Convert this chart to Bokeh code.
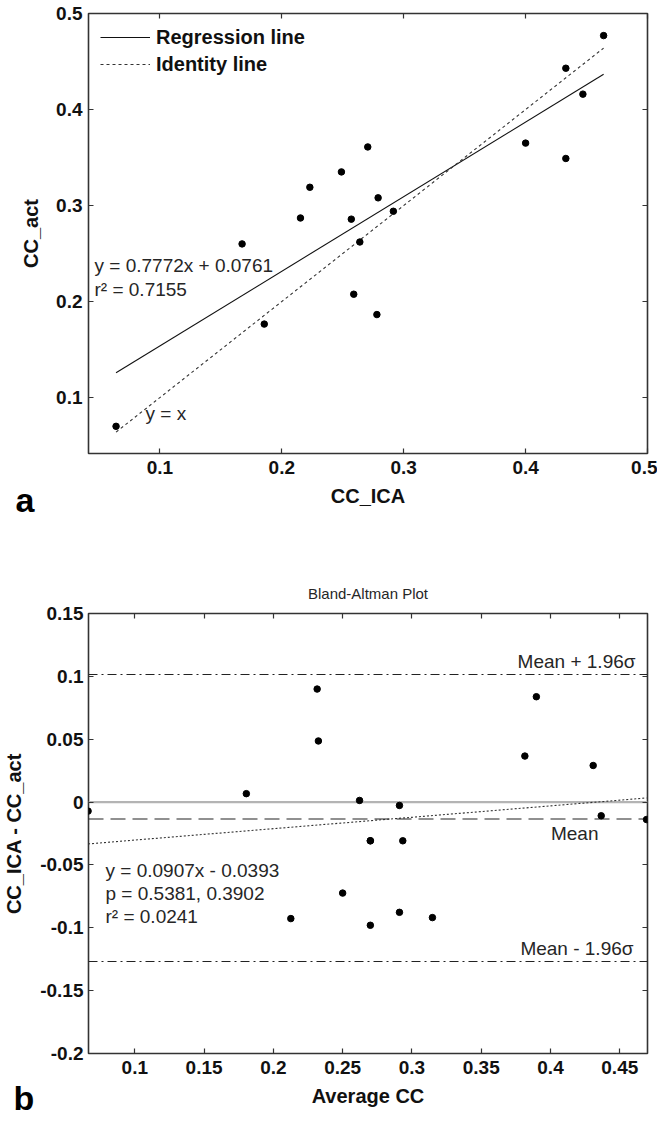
from bokeh.plotting import figure
from bokeh.models import (Range1d, FixedTicker, LinearAxis, Label, Span,
                          Legend, LegendItem, Title)
from bokeh.layouts import column
from bokeh.embed import file_html
from bokeh.resources import INLINE

# ---------------- data ----------------
# panel a: CC_ICA vs CC_act
cc_ica = [0.064, 0.1674, 0.1856, 0.2153, 0.2230, 0.2489, 0.2570, 0.2590, 0.2640,
          0.2705, 0.2780, 0.2790, 0.2915, 0.4000, 0.4330, 0.4330, 0.4470, 0.4640]
cc_act = [0.0700, 0.2600, 0.1765, 0.2870, 0.3190, 0.3350, 0.2858, 0.2076, 0.2620,
          0.3610, 0.1864, 0.3080, 0.2940, 0.3650, 0.4430, 0.3490, 0.4160, 0.4770]
reg_slope, reg_icpt = 0.7772, 0.0761
reg_text = ["y = 0.7772x + 0.0761", "r\u00b2 = 0.7155"]
legend_labels = ["Regression line", "Identity line"]

# panel b: Bland-Altman
avg_cc = [0.0663, 0.1805, 0.2126, 0.2316, 0.2325, 0.2500, 0.2622, 0.2700, 0.2700,
          0.2700, 0.2910, 0.2910, 0.2934, 0.3148, 0.3815, 0.3898, 0.4308, 0.4366,
          0.4693]
diff_cc = [-0.0072, 0.0067, -0.0927, 0.0899, 0.0486, -0.0724, 0.0013, -0.0308,
           -0.0980, -0.0308, -0.0027, -0.0877, -0.0308, -0.0919, 0.0366, 0.0838,
           0.0291, -0.0109, -0.0139]
ba_slope, ba_icpt = 0.0907, -0.0393
ba_text = ["y =  0.0907x - 0.0393", "p = 0.5381, 0.3902", "r\u00b2 = 0.0241"]
mean_diff = -0.0135
upper_loa = 0.1015
lower_loa = -0.1268

# axes
a_xrange = (0.0414, 0.5)
a_yrange = (0.0417, 0.5)
a_ticks = [0.1, 0.2, 0.3, 0.4, 0.5]
a_tick_labels = ["0.1", "0.2", "0.3", "0.4", "0.5"]
b_xrange = (0.0666, 0.47)
b_yrange = (-0.2, 0.15)
b_xticks = [0.1, 0.15, 0.2, 0.25, 0.3, 0.35, 0.4, 0.45]
b_xtick_labels = ["0.1", "0.15", "0.2", "0.25", "0.3", "0.35", "0.4", "0.45"]
b_yticks = [-0.2, -0.15, -0.1, -0.05, 0.0, 0.05, 0.1, 0.15]
b_ytick_labels = ["-0.2", "-0.15", "-0.1", "-0.05", "0", "0.05", "0.1", "0.15"]

# ---------------- styling helpers ----------------
FONT = "Liberation Sans"
FRAME = "#333333"
TXT = "#262626"


def style_axis(ax, ticks, labels, show=True):
    ax.ticker = FixedTicker(ticks=ticks)
    ax.minor_tick_line_color = None
    ax.major_tick_in = 5
    ax.major_tick_out = 0
    ax.major_tick_line_color = FRAME
    ax.major_tick_line_width = 1.2
    ax.axis_line_color = None
    if show:
        ax.major_label_overrides = {t: l for t, l in zip(ticks, labels)}
        ax.major_label_text_font = FONT
        ax.major_label_text_font_style = "bold"
        ax.major_label_text_color = "#111111"
        ax.major_label_text_font_size = "19px"
        ax.axis_label_text_font = FONT
        ax.axis_label_text_font_style = "bold"
        ax.axis_label_text_font_size = "20px"
        ax.axis_label_text_color = "#111111"
    else:
        ax.major_label_text_color = None
        ax.major_label_text_font_size = "1px"
        ax.major_label_standoff = 0


def add_box_axes(p, xt, xl, yt, yl):
    top = LinearAxis()
    right = LinearAxis()
    style_axis(top, xt, xl, show=False)
    style_axis(right, yt, yl, show=False)
    p.add_layout(top, "above")
    p.add_layout(right, "right")


def txt(p, text, x, y, xo=0, yo=0, size="19px", align="left", baseline="middle",
        style="normal", color=TXT):
    p.add_layout(Label(x=x, y=y, x_offset=xo, y_offset=yo, text=text,
                       text_font=FONT, text_font_size=size, text_font_style=style,
                       text_color=color, text_align=align, text_baseline=baseline))


def panel_letter(p, letter, offset, standoff):
    p.add_layout(Title(text=letter, align="left", vertical_align="top",
                       offset=offset, standoff=standoff,
                       text_font=FONT, text_font_size="34px",
                       text_font_style="bold", text_color="black"), "below")


# ---------------- panel a ----------------
p1 = figure(width=657, height=568, output_backend="svg", toolbar_location=None,
            x_range=Range1d(*a_xrange), y_range=Range1d(*a_yrange),
            min_border_left=88, min_border_right=10, min_border_top=13,
            min_border_bottom=115)
p1.grid.visible = False
p1.outline_line_color = FRAME
p1.outline_line_width = 1.6
style_axis(p1.xaxis[0], a_ticks, a_tick_labels)
style_axis(p1.yaxis[0], a_ticks, a_tick_labels)
p1.xaxis[0].axis_label = "CC_ICA"
p1.yaxis[0].axis_label = "CC_act"
p1.xaxis[0].major_label_standoff = 7
p1.xaxis[0].axis_label_standoff = 8
p1.yaxis[0].major_label_standoff = 6
p1.yaxis[0].axis_label_standoff = 11
add_box_axes(p1, a_ticks, a_tick_labels, a_ticks, a_tick_labels)

xmin, xmax = min(cc_ica), max(cc_ica)
r_reg = p1.line([xmin, xmax], [reg_slope * xmin + reg_icpt, reg_slope * xmax + reg_icpt],
                line_color="#111111", line_width=1.1)
r_id = p1.line([xmin, xmax], [xmin, xmax], line_color="#333333", line_width=1.1,
               line_dash="3 3")
p1.scatter(cc_ica, cc_act, marker="circle", size=6.5, fill_color="black",
           line_color="black")

legend = Legend(items=[LegendItem(label=legend_labels[0], renderers=[r_reg]),
                       LegendItem(label=legend_labels[1], renderers=[r_id])],
                location="top_left", margin=12, padding=10, spacing=3,
                glyph_width=50, glyph_height=24, label_height=24, label_standoff=6,
                background_fill_alpha=0, border_line_color=None,
                label_text_font=FONT, label_text_font_style="bold",
                label_text_font_size="20px", label_text_color="#111111")
p1.add_layout(legend)

txt(p1, reg_text[0], a_xrange[0], a_yrange[1], xo=6, yo=-252)
txt(p1, reg_text[1], a_xrange[0], a_yrange[1], xo=6, yo=-276)
txt(p1, "y = x", a_xrange[0], a_yrange[1], xo=57, yo=-400)
panel_letter(p1, "a", -73, -58)

# ---------------- panel b ----------------
p2 = figure(width=657, height=552, output_backend="svg", toolbar_location=None,
            x_range=Range1d(*b_xrange), y_range=Range1d(*b_yrange),
            title="Bland-Altman Plot",
            min_border_left=88, min_border_right=10, min_border_top=45,
            min_border_bottom=67)
p2.title.align = "center"
p2.title.text_font = FONT
p2.title.text_font_size = "15px"
p2.title.text_font_style = "normal"
p2.title.text_color = TXT
p2.title.standoff = 24
p2.grid.visible = False
p2.outline_line_color = FRAME
p2.outline_line_width = 1.6
style_axis(p2.xaxis[0], b_xticks, b_xtick_labels)
style_axis(p2.yaxis[0], b_yticks, b_ytick_labels)
p2.xaxis[0].axis_label = "Average CC"
p2.yaxis[0].axis_label = "CC_ICA - CC_act"
p2.xaxis[0].major_label_standoff = 7
p2.xaxis[0].axis_label_standoff = 8
p2.yaxis[0].major_label_standoff = 5
p2.yaxis[0].axis_label_standoff = 12
add_box_axes(p2, b_xticks, b_xtick_labels, b_yticks, b_ytick_labels)

p2.add_layout(Span(location=0, dimension="width", line_color="#b4b4b4",
                   line_width=2.2, level="underlay"))
p2.add_layout(Span(location=mean_diff, dimension="width", line_color="#222222",
                   line_width=1.1, line_dash="15 7", level="underlay"))
p2.add_layout(Span(location=upper_loa, dimension="width", line_color="#222222",
                   line_width=1.1, line_dash="9 4 2 4", level="underlay"))
p2.add_layout(Span(location=lower_loa, dimension="width", line_color="#222222",
                   line_width=1.1, line_dash="9 4 2 4", level="underlay"))

amin, amax = min(avg_cc), max(avg_cc)
p2.line([amin, amax], [ba_slope * amin + ba_icpt, ba_slope * amax + ba_icpt],
        line_color="#333333", line_width=1.1, line_dash="2 2")
p2.scatter(avg_cc, diff_cc, marker="circle", size=6.5, fill_color="black",
           line_color="black")

txt(p2, "Mean + 1.96\u03c3", b_xrange[1], upper_loa, xo=-12, yo=13, align="right")
txt(p2, "Mean - 1.96\u03c3", b_xrange[1], lower_loa, xo=-14, yo=13, align="right")
txt(p2, "Mean", b_xrange[1], mean_diff, xo=-49, yo=-14, align="right")
for i, t in enumerate(ba_text):
    txt(p2, t, b_xrange[0], b_yrange[1], xo=17, yo=-257 - 23 * i)
panel_letter(p2, "b", -75, -62)

page = column(p1, p2, spacing=0)
open("out.html", "w").write(file_html(page, INLINE))
